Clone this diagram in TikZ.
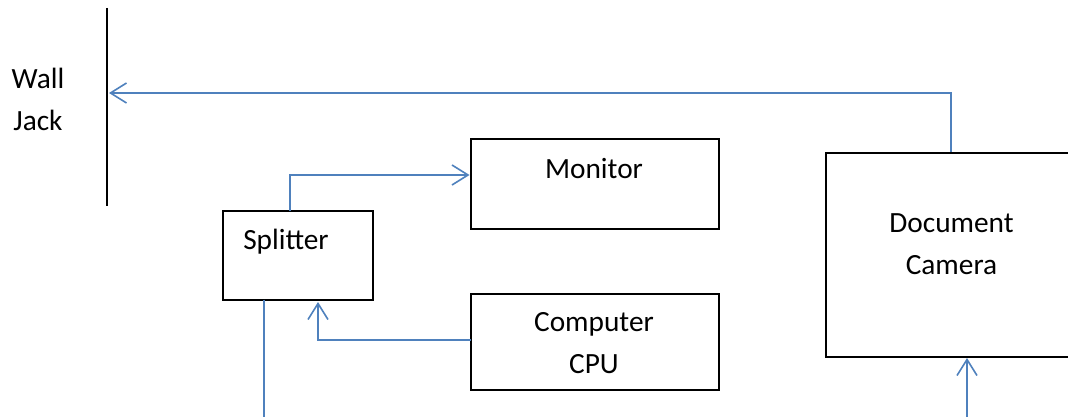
\documentclass[tikz,border=0pt]{standalone}
\usepackage{fontspec}
\setmainfont{Carlito}
\usetikzlibrary{arrows.meta}
\definecolor{connc}{HTML}{4F81BD}
\tikzset{
  box/.style={draw=black,line width=1.5pt,inner sep=0pt,anchor=north west},
  lbl/.style={font=\fontsize{22}{31.5}\selectfont,text=black,align=center,inner sep=0pt},
  conn/.style={draw=connc,line width=1.2pt,-{Straight Barb[length=12pt,width=15pt,line width=1.2pt]}},
  plain/.style={draw=connc,line width=1.2pt}
}
\begin{document}
\begin{tikzpicture}[x=0.75pt,y=-0.75pt]
\useasboundingbox (0,0) rectangle (1068,417);
\node[box,minimum width=112.5pt,minimum height=66.8pt] (split) at (222.4,210.4) {};
\node[box,minimum width=185.6pt,minimum height=67.5pt] (mon) at (470.3,137.6) {};
\node[box,minimum width=185.6pt,minimum height=72.5pt] (cpu) at (470.3,292.6) {};
\node[box,minimum width=195pt,minimum height=153pt] (cam) at (825.4,151.6) {};
\coordinate (j1) at (107,8);
\coordinate (j2) at (107,206);
\draw[black,line width=1.5pt] (j1) -- (j2);
\coordinate (jack) at (109,93);
\coordinate (cb) at (951,152);
\coordinate (st) at (290,210.7);
\coordinate (mt) at (469.5,175);
\coordinate (cl) at (470.7,340);
\coordinate (sb) at (318,302);
\coordinate (s2) at (264,299.7);
\coordinate (e2) at (264,417);
\coordinate (ci) at (967,358);
\coordinate (ci2) at (967,417);
\draw[conn] (cb) |- (jack);
\draw[conn] (st) |- (mt);
\draw[conn] (cl) -| (sb);
\draw[plain] (s2) -- (e2);
\draw[conn] (ci2) -- (ci);
\node[lbl] (w) at (38,99) {Wall\\Jack};
\node[lbl] (ms) at (286,241.5) {Splitter};
\node[lbl] (mm) at (594,169) {Monitor};
\node[lbl] (mc) at (594,343) {Computer\\CPU};
\node[lbl] (md) at (951.5,244) {Document\\Camera};
\end{tikzpicture}
\end{document}
